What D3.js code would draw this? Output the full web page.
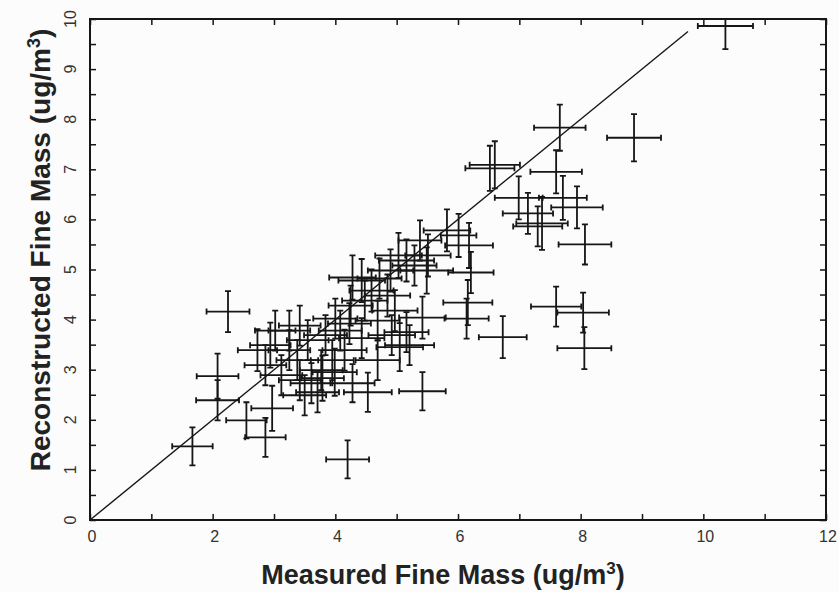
<!DOCTYPE html>
<html>
<head>
<meta charset="utf-8">
<script src="https://cdn.jsdelivr.net/npm/d3@7"></script>
<style>
  html, body { margin: 0; padding: 0; background: #fcfcfc; }
  svg { display: block; font-family: "Liberation Sans", Arial, sans-serif; }
</style>
</head>
<body>
<svg id="chart" width="839" height="592"></svg>
<script>
// measured vs reconstructed fine mass, with error bars (ug/m3)
const measured = [
  10.36, 8.87, 7.66, 6.60, 6.52, 7.60, 6.99, 7.71, 7.94, 7.14,
  7.37, 7.30, 8.07, 7.60, 8.04, 8.06, 6.73, 5.42, 4.20, 4.53,
  4.28, 2.25, 1.67, 2.08, 2.08, 2.97, 2.55, 2.86, 5.82, 6.01,
  6.18, 6.21, 6.16, 6.14, 5.42, 5.16, 5.05, 5.16, 5.49, 4.28,
  4.43, 5.03, 5.29, 5.51, 5.38, 4.72, 4.85, 4.59, 4.48, 4.25,
  4.97, 4.69, 4.00, 4.23, 4.08, 4.43, 4.92, 5.21, 4.69, 4.15,
  3.84, 3.55, 3.95, 3.77, 3.99, 3.79, 3.71, 3.50, 3.61, 3.42,
  3.12, 3.38, 3.25, 2.86, 2.94, 2.73, 3.25, 3.42, 3.02, 4.90
];
const reconstructed = [
  9.86, 7.63, 7.83, 7.09, 7.02, 6.95, 6.43, 6.43, 6.24, 6.12,
  5.92, 5.86, 5.50, 4.26, 4.14, 3.43, 3.65, 2.57, 1.21, 2.55,
  2.73, 4.16, 1.47, 2.87, 2.39, 2.23, 1.99, 1.65, 5.78, 5.68,
  5.48, 4.94, 4.34, 4.02, 4.04, 3.75, 3.45, 5.18, 4.98, 4.84,
  4.78, 5.28, 5.08, 5.28, 5.58, 4.82, 4.48, 4.58, 4.38, 4.28,
  4.18, 3.98, 4.02, 3.92, 3.78, 3.63, 3.69, 3.49, 3.19, 3.39,
  3.69, 3.59, 3.19, 2.99, 2.95, 2.83, 2.55, 2.49, 2.73, 2.79,
  2.89, 3.19, 3.39, 3.09, 3.49, 3.39, 3.78, 3.88, 3.78, 4.98
];
const measuredErr = [
  0.45, 0.44, 0.42, 0.41, 0.40, 0.42, 0.39, 0.39, 0.42, 0.41,
  0.42, 0.40, 0.43, 0.41, 0.42, 0.44, 0.39, 0.38, 0.35, 0.39,
  0.36, 0.35, 0.33, 0.34, 0.35, 0.34, 0.33, 0.33, 0.38, 0.29,
  0.39, 0.37, 0.40, 0.36, 0.38, 0.36, 0.38, 0.45, 0.43, 0.38,
  0.38, 0.38, 0.36, 0.37, 0.35, 0.36, 0.37, 0.36, 0.37, 0.36,
  0.37, 0.36, 0.36, 0.35, 0.35, 0.37, 0.38, 0.40, 0.36, 0.36,
  0.35, 0.34, 0.35, 0.35, 0.36, 0.35, 0.35, 0.35, 0.34, 0.34,
  0.34, 0.34, 0.34, 0.34, 0.33, 0.32, 0.34, 0.34, 0.33, 0.37
];
const reconstructedErr = [
  0.46, 0.47, 0.46, 0.47, 0.45, 0.43, 0.43, 0.44, 0.42, 0.41,
  0.53, 0.40, 0.40, 0.40, 0.40, 0.42, 0.42, 0.38, 0.38, 0.39,
  0.38, 0.41, 0.38, 0.45, 0.40, 0.45, 0.36, 0.39, 0.42, 0.43,
  0.45, 0.41, 0.45, 0.40, 0.42, 0.40, 0.48, 0.42, 0.46, 0.44,
  0.43, 0.45, 0.40, 0.42, 0.40, 0.40, 0.42, 0.42, 0.40, 0.40,
  0.41, 0.40, 0.40, 0.41, 0.40, 0.40, 0.40, 0.40, 0.40, 0.41,
  0.40, 0.40, 0.40, 0.40, 0.47, 0.45, 0.40, 0.40, 0.40, 0.40,
  0.40, 0.40, 0.40, 0.40, 0.45, 0.42, 0.40, 0.40, 0.40, 0.42
];
const xTicks = [0, 2, 4, 6, 8, 10, 12];
const yTicks = [0, 1, 2, 3, 4, 5, 6, 7, 8, 9, 10];
const lineEnd = 9.75; // 1:1 line stops here

const svg = d3.select("#chart");
const plotL = 90, plotR = 826, plotT = 19, plotB = 520;

const x = d3.scaleLinear().domain([0, 12]).range([plotL, plotR]);
const y = d3.scaleLinear().domain([0, 10]).range([plotB, plotT]);

const ink = "#161616";

svg.append("defs").append("clipPath").attr("id", "plot-clip")
  .append("rect")
  .attr("x", plotL).attr("y", plotT)
  .attr("width", plotR - plotL).attr("height", plotB - plotT);

// axes: ticks pointing inward on all four sides
const tickLen = 6;
const gx = svg.append("g")
  .attr("transform", `translate(0,${plotB})`)
  .call(d3.axisBottom(x).tickValues(d3.range(0, 13, 1)).tickSize(-tickLen).tickFormat(""));
const gxt = svg.append("g")
  .attr("transform", `translate(0,${plotT})`)
  .call(d3.axisTop(x).tickValues(d3.range(0, 13, 1)).tickSize(-tickLen).tickFormat(""));
const gy = svg.append("g")
  .attr("transform", `translate(${plotL},0)`)
  .call(d3.axisLeft(y).tickValues(d3.range(0, 10.01, 0.5)).tickSize(-tickLen).tickFormat(""));
const gyr = svg.append("g")
  .attr("transform", `translate(${plotR},0)`)
  .call(d3.axisRight(y).tickValues(d3.range(0, 10.01, 0.5)).tickSize(-tickLen).tickFormat(""));

[gx, gxt, gy, gyr].forEach(g => {
  g.select(".domain").remove();
  g.selectAll("line").attr("stroke", ink).attr("stroke-width", 1.5);
});

// frame
svg.append("rect")
  .attr("x", plotL).attr("y", plotT)
  .attr("width", plotR - plotL).attr("height", plotB - plotT)
  .attr("fill", "none").attr("stroke", ink).attr("stroke-width", 2);

// tick labels
svg.append("g").selectAll("text")
  .data(xTicks)
  .join("text")
  .attr("x", d => x(d) + 2)
  .attr("y", plotB + 22)
  .attr("text-anchor", "middle")
  .attr("font-size", 16)
  .attr("fill", "#333")
  .text(d => d);

svg.append("g").selectAll("text")
  .data(yTicks)
  .join("text")
  .attr("transform", d => `translate(${plotL - 14},${y(d)}) rotate(-90)`)
  .attr("text-anchor", "middle")
  .attr("font-size", 16)
  .attr("fill", "#333")
  .text(d => d);

// 1:1 line
svg.append("line")
  .attr("x1", x(0)).attr("y1", y(0))
  .attr("x2", x(lineEnd)).attr("y2", y(lineEnd))
  .attr("stroke", ink).attr("stroke-width", 1.4);

// error crosses
const pts = measured.map((m, i) => ({
  x: m, y: reconstructed[i], ex: measuredErr[i], ey: reconstructedErr[i]
}));
const cap = 3;
const marks = svg.append("g")
  .attr("clip-path", "url(#plot-clip)")
  .attr("stroke", ink)
  .attr("stroke-width", 1.8)
  .attr("fill", "none");

marks.selectAll("path.pt")
  .data(pts)
  .join("path")
  .attr("class", "pt")
  .attr("d", d => {
    const x0 = x(d.x - d.ex), x1 = x(d.x + d.ex), yc = y(d.y);
    const y0 = y(d.y - d.ey), y1 = y(d.y + d.ey), xc = x(d.x);
    return `M${x0},${yc}H${x1}` +
      `M${x0},${yc - cap}V${yc + cap}M${x1},${yc - cap}V${yc + cap}` +
      `M${xc},${y0}V${y1}` +
      `M${xc - cap},${y0}H${xc + cap}M${xc - cap},${y1}H${xc + cap}`;
  });

// axis titles
const xTitle = svg.append("text")
  .attr("x", 443)
  .attr("y", 584)
  .attr("text-anchor", "middle")
  .attr("font-size", 27)
  .attr("font-weight", "bold")
  .attr("fill", "#222");
xTitle.append("tspan").text("Measured Fine Mass (ug/m");
xTitle.append("tspan").attr("dy", -10).attr("font-size", 17).text("3");
xTitle.append("tspan").attr("dy", 10).text(")");

const yTitle = svg.append("text")
  .attr("transform", `translate(50,250) rotate(-90)`)
  .attr("text-anchor", "middle")
  .attr("font-size", 28)
  .attr("font-weight", "bold")
  .attr("fill", "#222");
yTitle.append("tspan").text("Reconstructed Fine Mass (ug/m");
yTitle.append("tspan").attr("dy", -10).attr("font-size", 18).text("3");
yTitle.append("tspan").attr("dy", 10).text(")");
</script>
</body>
</html>
